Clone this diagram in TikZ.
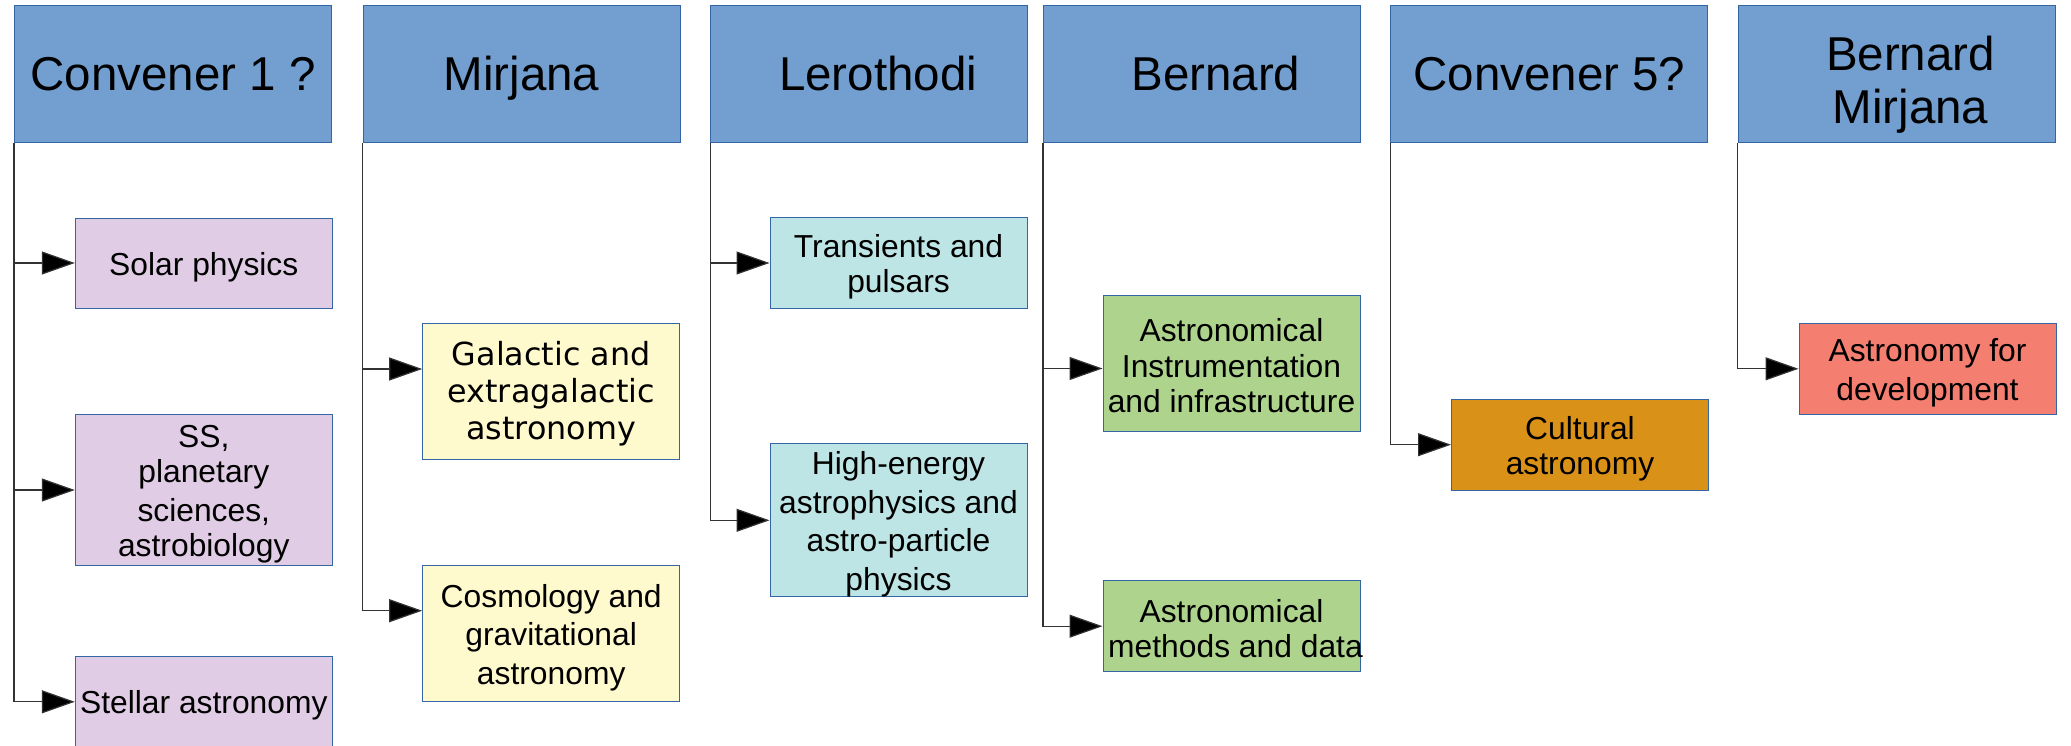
\documentclass[tikz,border=0pt]{standalone}
\usepackage{fontspec}
\setmainfont{Liberation Sans}
\newfontfamily\dejavu{DejaVu Sans}
\usetikzlibrary{arrows.meta}
\definecolor{hdrfill}{HTML}{729FCF}
\definecolor{bordc}{HTML}{3465A4}
\definecolor{purp}{HTML}{E0CCE4}
\definecolor{yell}{HTML}{FFFACD}
\definecolor{cyanl}{HTML}{BDE5E5}
\definecolor{greenl}{HTML}{AED38D}
\definecolor{orng}{HTML}{DA9117}
\definecolor{salm}{HTML}{F47F71}
\definecolor{connc}{HTML}{333333}
\newcommand\lstr{\rule[-0.212em]{0pt}{1.11em}}
\newcommand\cstr{\rule[-0.12em]{0pt}{1.09em}}
\newcommand\dstr{\rule[-0.236em]{0pt}{1.15em}}
\begin{document}
\begin{tikzpicture}[x=1pt,y=-1pt,
  hdr/.style={draw=bordc, line width=1pt, fill=hdrfill, minimum width=317pt, minimum height=137pt, inner sep=0pt, align=center, font=\fontsize{47.5}{53}\selectfont},
  sub/.style={draw=bordc, line width=1pt, inner sep=0pt, minimum width=257pt, align=center, font=\fontsize{31.8}{35.2}\selectfont},
  conn/.style={draw=connc, line width=1.2pt, -{Triangle[length=33pt,width=23pt,fill=black]}}]
\useasboundingbox (0,0) rectangle (2071,746);
% headers
\node[hdr] (h1) at (173,74.5) {\lstr Convener 1 ?};
\node[hdr] (h2) at (521.5,74.5) {\lstr Mirjana};
\node[hdr] (h3) at (869.1,74.5) {\lstr\hspace*{18pt}Lerothodi};
\node[hdr] (h4) at (1201.9,74.5) {\lstr\hspace*{28pt}Bernard};
\node[hdr] (h5) at (1549.3,74.5) {\lstr Convener 5?};
\node[hdr] (h6) at (1896.5,74.5) {\rule[-10pt]{0pt}{66pt}\hspace*{28pt}Bernard\\\lstr\hspace*{28pt}Mirjana};
% column 1
\node[sub, fill=purp, minimum height=90pt] (solar) at (203.8,263) {\cstr Solar physics};
\node[sub, fill=purp, minimum height=151pt] (ss) at (203.8,490) {\cstr SS,\\\cstr planetary\\\cstr sciences,\\\cstr astrobiology};
\node[sub, fill=purp, minimum height=90pt] (stellar) at (203.8,701.8) {\cstr Stellar astronomy};
% column 2
\node[sub, fill=yell, minimum height=136.5pt, font=\dejavu\fontsize{31.8}{36.8}\selectfont] (gal) at (551.2,391.7) {\dstr Galactic and\\\dstr extragalactic\\\dstr astronomy};
\node[sub, fill=yell, minimum height=136pt] (cos) at (551.2,633.7) {\cstr Cosmology and\\\cstr gravitational\\\cstr astronomy};
% column 3
\node[sub, fill=cyanl, minimum height=91.4pt] (trans) at (898.5,263) {\cstr Transients and\\\cstr pulsars};
\node[sub, fill=cyanl, minimum height=151.3pt] (high) at (898.5,520.3) {\cstr High-energy\\\cstr astrophysics and\\\cstr astro-particle\\\cstr physics};
% column 4
\node[sub, fill=greenl, minimum height=136.4pt] (instr) at (1231.5,363.5) {\cstr Astronomical\\\cstr Instrumentation\\\makebox[0pt]{\cstr and infrastructure}};
\node[sub, fill=greenl, minimum height=91pt] (meth) at (1231.5,626.2) {\cstr Astronomical\\\makebox[0pt]{\hspace{8pt}\cstr methods and data}};
% column 5
\node[sub, fill=orng, minimum height=90.7pt] (cult) at (1580,444.7) {\cstr Cultural\\\cstr astronomy};
% column 6
\node[sub, fill=salm, minimum height=91pt] (dev) at (1927.5,368.8) {\cstr Astronomy for\\\cstr development};
% connectors
\draw[conn] (h1.south west) |- (solar.west);
\draw[conn] (h1.south west) |- (ss.west);
\draw[conn] (h1.south west) |- (stellar.west);
\draw[conn] (h2.south west) |- ([yshift=22.7pt]gal.west);
\draw[conn] (h2.south west) |- ([yshift=23pt]cos.west);
\draw[conn] (h3.south west) |- (trans.west);
\draw[conn] (h3.south west) |- (high.west);
\draw[conn] (h4.south west) |- ([yshift=-5pt]instr.west);
\draw[conn] (h4.south west) |- (meth.west);
\draw[conn] (h5.south west) |- (cult.west);
\draw[conn] (h6.south west) |- (dev.west);
\end{tikzpicture}
\end{document}
